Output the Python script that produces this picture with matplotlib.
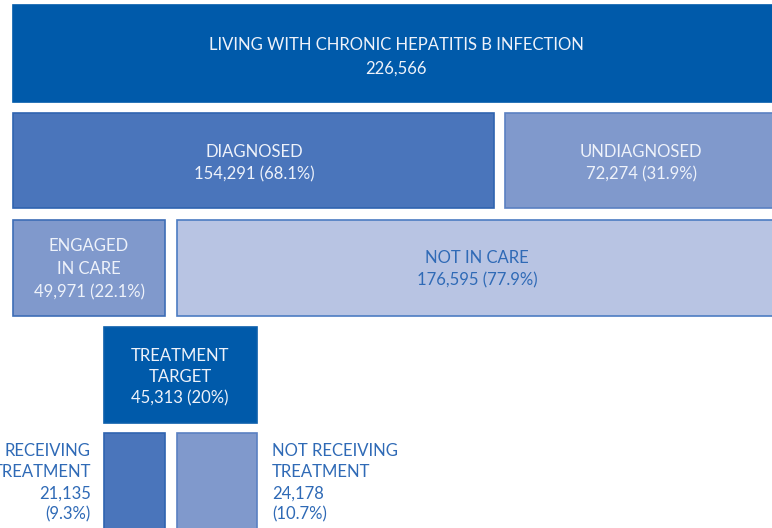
import matplotlib
matplotlib.use("Agg")
import matplotlib.pyplot as plt
from matplotlib.patches import Rectangle

# ---- data ----
labels = ["LIVING WITH CHRONIC HEPATITIS B INFECTION", "DIAGNOSED", "UNDIAGNOSED",
          "ENGAGED\nIN CARE", "NOT IN CARE", "TREATMENT\nTARGET",
          "RECEIVING\nTREATMENT", "NOT RECEIVING\nTREATMENT"]
values = [226566, 154291, 72274, 49971, 176595, 45313, 21135, 24178]
percents = [None, "68.1%", "31.9%", "22.1%", "77.9%", "20%", "9.3%", "10.7%"]

# ---- layout (pixel units: x0, y0, x1, y1) ----
boxes = [(13, 5, 790, 102), (13, 113, 494, 208), (505, 113, 790, 208),
         (13, 220, 165, 316), (177, 220, 790, 316), (104, 327, 257, 423),
         (104, 433, 165, 540), (177, 433, 257, 540)]
fills = ["#005AAA", "#4A75BB", "#8099CC", "#8099CC", "#B8C4E3", "#005AAA",
         "#4A75BB", "#8099CC"]
edges = ["#005AAA", "#2F64B0", "#5A80C2", "#3D6DB6", "#4C7CC2", "#0C5FAC",
         "#2F64B0", "#5A80C2"]
WHITE = "#EEF2FA"
BLUE = "#2F6AB6"

fig = plt.figure(figsize=(7.72, 5.28), dpi=100)
ax = fig.add_axes([0, 0, 1, 1])
ax.set_xlim(0, 772)
ax.set_ylim(528, 0)
ax.axis("off")

for (x0, y0, x1, y1), fc, ec in zip(boxes, fills, edges):
    ax.add_patch(Rectangle((x0, y0), x1 - x0, y1 - y0, facecolor=fc,
                           edgecolor=ec, linewidth=1.2))

fam = ["Lato", "DejaVu Sans"]

def txt(x, y, s, color, ha="center", size=12, ls=1.45):
    ax.text(x, y, s, ha=ha, va="center", color=color, fontsize=size,
            family=fam, linespacing=ls)

# top
txt(396, 45.5, labels[0], WHITE)
txt(396, 68.5, f"{values[0]:,}", WHITE)
# diagnosed / undiagnosed
txt(254, 163, f"{labels[1]}\n{values[1]:,} ({percents[1]})", WHITE)
txt(641, 163, f"{labels[2]}\n{values[2]:,} ({percents[2]})", WHITE)
# engaged / not in care
txt(89, 269, f"{labels[3]}\n{values[3]:,} ({percents[3]})", WHITE, ls=1.55)
txt(477, 269, f"{labels[4]}\n{values[4]:,} ({percents[4]})", BLUE)
# treatment target
txt(180, 377, f"{labels[5]}\n{values[5]:,} ({percents[5]})", WHITE, size=12, ls=1.38)
# receiving / not receiving
txt(91, 483, f"{labels[6]}\n{values[6]:,}\n({percents[6]})", BLUE, ha="right", ls=1.4)
txt(272, 483, f"{labels[7]}\n{values[7]:,}\n({percents[7]})", BLUE, ha="left", ls=1.4)

fig.savefig("out.png", dpi=100)
